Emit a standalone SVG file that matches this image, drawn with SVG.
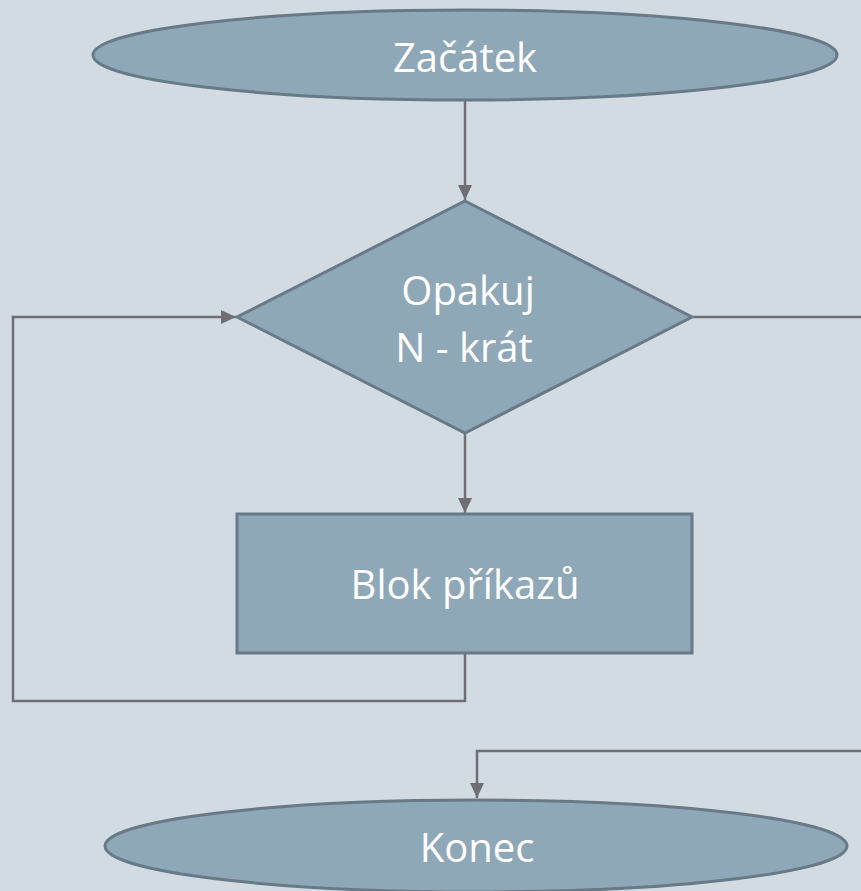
<svg xmlns="http://www.w3.org/2000/svg" width="861" height="891" viewBox="0 0 861 891">
  <style>
    .shape { fill: #8FA8B8; stroke: #687987; stroke-width: 3; }
    .label { fill: #FFFFFF; font-family: "Open Sans", "Noto Sans", sans-serif; font-size: 40px; text-anchor: middle; }
    .conn { fill: none; stroke: #6E6E73; stroke-width: 2.5; }
  </style>
  <defs>
    <marker id="arrow" markerUnits="userSpaceOnUse" markerWidth="16" markerHeight="14" viewBox="0 0 16 14" refX="15" refY="7" orient="auto">
      <path d="M0,0 L15,7 L0,14 z" fill="#6E6E73"/>
    </marker>
  </defs>
  <rect x="0" y="0" width="861" height="891" fill="#D2DBE2"/>
  <g id="connectors">
    <path class="conn" d="M465,100 V200" marker-end="url(#arrow)"/>
    <path class="conn" d="M465,433 V513" marker-end="url(#arrow)"/>
    <path class="conn" d="M465,653 V701 H13 V317 H236" marker-end="url(#arrow)"/>
    <path class="conn" d="M692,317 H866 V751 H477 V798" marker-end="url(#arrow)"/>
  </g>
  <g id="start">
    <ellipse class="shape" cx="465" cy="55" rx="372" ry="45"/>
    <text class="label" x="465" y="72">Začátek</text>
  </g>
  <g id="loop">
    <polygon class="shape" points="465,201 692,317 465,433 237,317"/>
    <text class="label" x="468" y="305">Opakuj</text>
    <text class="label" x="464" y="362">N - krát</text>
  </g>
  <g id="block">
    <rect class="shape" x="237" y="514" width="455" height="139"/>
    <text class="label" x="465" y="599">Blok příkazů</text>
  </g>
  <g id="end">
    <ellipse class="shape" cx="476" cy="846" rx="371" ry="46"/>
    <text class="label" x="477" y="862">Konec</text>
  </g>
</svg>
